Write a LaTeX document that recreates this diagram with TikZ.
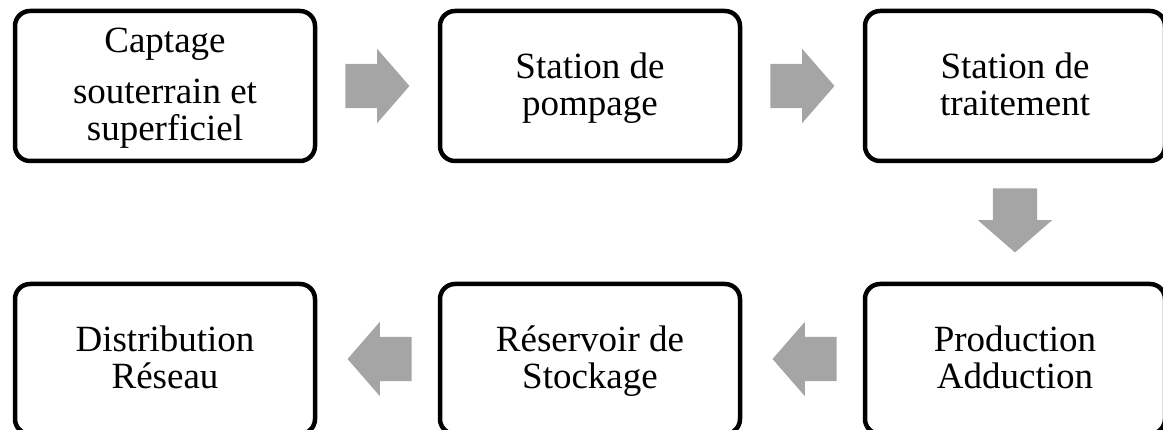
\documentclass[tikz,border=0pt]{standalone}
\usepackage{fontspec}
\setmainfont{Liberation Serif}
\usetikzlibrary{shapes.arrows,calc}
\definecolor{arrowgray}{HTML}{A5A5A5}
\newcommand\bxstrut{\rule[-7pt]{0pt}{36pt}}
\tikzset{
  stepbox/.style={draw=black, line width=4.5pt, rounded corners=15pt, fill=white,
    minimum width=300pt, minimum height=150pt, align=center, inner sep=0pt,
    font=\fontsize{37}{37}\selectfont},
  blockarrow/.style={single arrow, fill=arrowgray, draw=none, inner xsep=0pt, inner ysep=22pt,
    minimum height=64pt, single arrow head extend=15pt,
    single arrow tip angle=98, single arrow head indent=0pt, anchor=tail},
  downarrow/.style={blockarrow, inner xsep=22pt, inner ysep=0pt, shape border rotate=270}
}
\begin{document}
\begin{tikzpicture}[x=1pt,y=-1pt]
\useasboundingbox (0,0) rectangle (1163,430);
\node[stepbox] (b1) at (165,86) {\bxstrut Captage\\[14pt]\bxstrut souterrain et\\\bxstrut superficiel};
\node[stepbox] (b2) at (590,86) {\bxstrut Station de\\\bxstrut pompage};
\node[stepbox] (b3) at (1015,86) {\bxstrut Station de\\\bxstrut traitement};
\node[stepbox] (b4) at (1015,359) {\bxstrut Production\\\bxstrut Adduction};
\node[stepbox] (b5) at (590,359) {\bxstrut Réservoir de\\\bxstrut Stockage};
\node[stepbox] (b6) at (165,359) {\bxstrut Distribution\\\bxstrut Réseau};
\node[blockarrow] (a1) at ($(b1.east)+(28,0)$) {};
\node[blockarrow] (a2) at ($(b2.east)+(28,0)$) {};
\node[downarrow] (a3) at ($(b3.south)+(0,25)$) {};
\node[blockarrow, shape border rotate=180] (a4) at ($(b4.west)+(-26,0)$) {};
\node[blockarrow, shape border rotate=180] (a5) at ($(b5.west)+(-26,0)$) {};
\end{tikzpicture}
\end{document}
